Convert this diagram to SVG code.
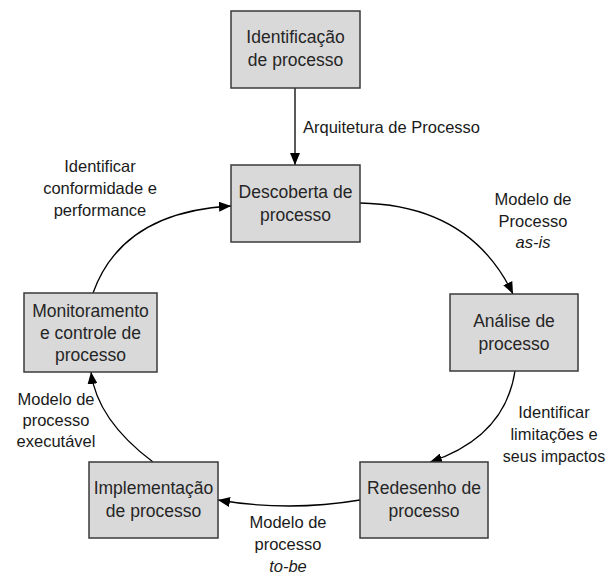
<svg xmlns="http://www.w3.org/2000/svg" width="609" height="577" viewBox="0 0 609 577">
  <defs>
    <marker id="arrow" viewBox="0 0 12 10" refX="12" refY="5" markerWidth="12" markerHeight="10" markerUnits="userSpaceOnUse" orient="auto">
      <path d="M0,0 L12,5 L0,10 Z" fill="#000"/>
    </marker>
    <style>
      .box { fill: #d9d9d9; stroke: #3a3a3a; stroke-width: 1.5; }
      .btxt { font-family: "Liberation Sans", Arial, sans-serif; font-size: 17.5px; fill: #262626; text-anchor: middle; }
      .lbl { font-family: "Liberation Sans", Arial, sans-serif; font-size: 16.5px; fill: #1a1a1a; text-anchor: middle; }
      .conn { fill: none; stroke: #000; stroke-width: 1.3; marker-end: url(#arrow); }
    </style>
  </defs>
  <rect width="609" height="577" fill="#fff"/>

  <!-- connectors -->
  <g id="connectors">
    <path class="conn" d="M295,88 L295,165"/>
    <path class="conn" d="M360,203 Q470,205 513,294"/>
    <path class="conn" d="M515,371 Q505,437 430,462"/>
    <path class="conn" d="M360,500 Q289,512 218,500"/>
    <path class="conn" d="M153,462 Q97,420 91,372"/>
    <path class="conn" d="M93,293 Q122,212 231,206"/>
  </g>

  <!-- connector labels -->
  <g id="labels">
    <text class="lbl" x="303" y="133" style="text-anchor:start">Arquitetura de Processo</text>
    <text class="lbl" x="533" y="205">Modelo de</text>
    <text class="lbl" x="533" y="227">Processo</text>
    <text class="lbl" x="533" y="248" font-style="italic">as-is</text>
    <text class="lbl" x="100" y="172">Identificar</text>
    <text class="lbl" x="100" y="194">conformidade e</text>
    <text class="lbl" x="100" y="216">performance</text>
    <text class="lbl" x="554" y="418">Identificar</text>
    <text class="lbl" x="554" y="440">limitações e</text>
    <text class="lbl" x="554" y="462" style="font-size:16px">seus impactos</text>
    <text class="lbl" x="288" y="528">Modelo de</text>
    <text class="lbl" x="288" y="550">processo</text>
    <text class="lbl" x="288" y="572" font-style="italic">to-be</text>
    <text class="lbl" x="56" y="405">Modelo de</text>
    <text class="lbl" x="56" y="426">processo</text>
    <text class="lbl" x="56" y="447">executável</text>
  </g>

  <!-- process nodes -->
  <g id="identificacao">
    <rect class="box" x="231" y="11" width="129" height="77"/>
    <text class="btxt" x="295.5" y="43">Identificação</text>
    <text class="btxt" x="295.5" y="66">de processo</text>
  </g>
  <g id="descoberta">
    <rect class="box" x="231" y="165" width="129" height="77"/>
    <text class="btxt" x="295.5" y="198">Descoberta de</text>
    <text class="btxt" x="295.5" y="221">processo</text>
  </g>
  <g id="analise">
    <rect class="box" x="450" y="294" width="128" height="77"/>
    <text class="btxt" x="514" y="327">Análise de</text>
    <text class="btxt" x="514" y="350">processo</text>
  </g>
  <g id="redesenho">
    <rect class="box" x="360" y="462" width="128" height="76"/>
    <text class="btxt" x="424" y="494">Redesenho de</text>
    <text class="btxt" x="424" y="517">processo</text>
  </g>
  <g id="implementacao">
    <rect class="box" x="89" y="462" width="129" height="76"/>
    <text class="btxt" x="153.5" y="494">Implementação</text>
    <text class="btxt" x="153.5" y="517">de processo</text>
  </g>
  <g id="monitoramento">
    <rect class="box" x="24" y="293" width="133" height="79"/>
    <text class="btxt" x="90.5" y="317">Monitoramento</text>
    <text class="btxt" x="90.5" y="339">e controle de</text>
    <text class="btxt" x="90.5" y="361">processo</text>
  </g>
</svg>
